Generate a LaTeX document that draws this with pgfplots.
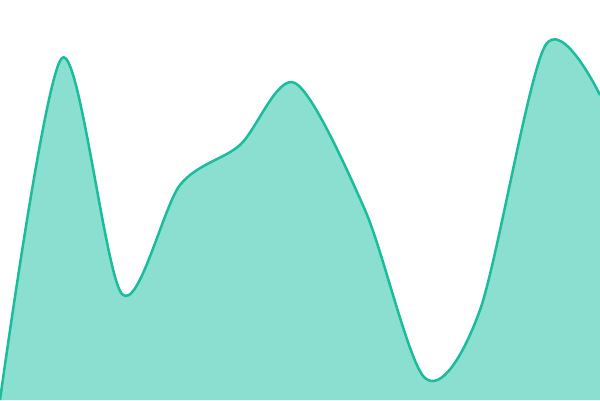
\documentclass[border=0pt]{standalone}
\usepackage{pgfplots}
\pgfplotsset{compat=1.18}
\definecolor{turq}{HTML}{1ABC9C}
\definecolor{turqfill}{HTML}{8ADFD0}
\begin{document}
\begin{tikzpicture}
\pgfplotstableread{
x y
0 0
62 342
122 106
180 215
240 255
295 317
365 190
425 22
480 90
545 354
600 305
}\datatab
\begin{axis}[
  width=600bp, height=400bp, scale only axis,
  hide axis,
  xmin=0, xmax=600, ymin=0, ymax=400,
  clip=true,
]
\addplot[draw=none, fill=turqfill, smooth, tension=0.5] table {\datatab} \closedcycle;
\addplot[draw=turq, line width=2.5bp, smooth, tension=0.5] table {\datatab};
\end{axis}
\pgfresetboundingbox
\path[use as bounding box] (current axis.south west) rectangle (current axis.north east);
\end{tikzpicture}
\end{document}
